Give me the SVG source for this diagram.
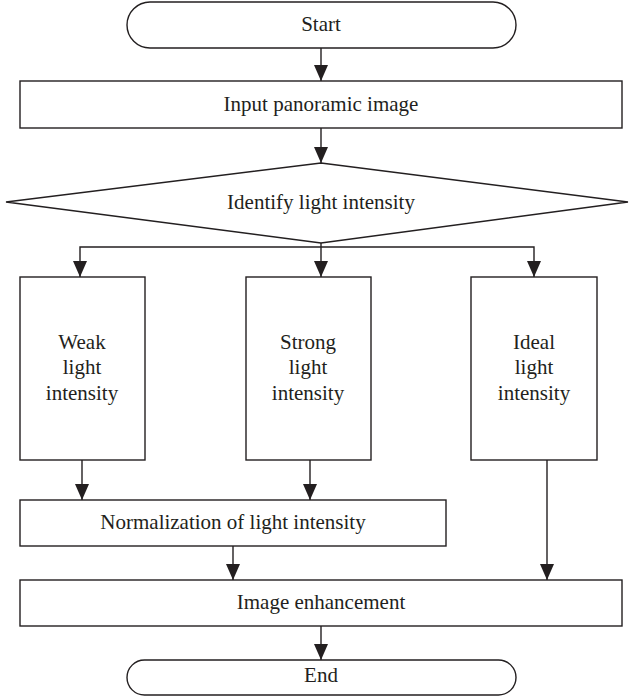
<svg xmlns="http://www.w3.org/2000/svg" width="630" height="697" viewBox="0 0 630 697">
<defs>
<style>
.s{fill:#fff;stroke:#231f20;stroke-width:1.4}
.t{font-family:"Liberation Serif","Times New Roman",serif;font-size:21px;fill:#231f20;text-anchor:middle}
.c{fill:none;stroke:#231f20;stroke-width:1.4}
</style>
<marker id="ah" viewBox="0 0 16 14" refX="16" refY="7" markerWidth="16" markerHeight="14" markerUnits="userSpaceOnUse" orient="auto">
<path d="M0,0 L16,7 L0,14 z" fill="#231f20"/>
</marker>
</defs>
<rect width="630" height="697" fill="#fff"/>
<g id="connectors">
<path class="c" d="M321,48 V81" marker-end="url(#ah)"/>
<path class="c" d="M321,128 V163" marker-end="url(#ah)"/>
<path class="c" d="M321,243 V277" marker-end="url(#ah)"/>
<path class="c" d="M321,247 H80 V277" marker-end="url(#ah)"/>
<path class="c" d="M321,247 H534 V277" marker-end="url(#ah)"/>
<path class="c" d="M82,460 V500" marker-end="url(#ah)"/>
<path class="c" d="M310,460 V500" marker-end="url(#ah)"/>
<path class="c" d="M233,546 V580" marker-end="url(#ah)"/>
<path class="c" d="M547,460 V580" marker-end="url(#ah)"/>
<path class="c" d="M321,626 V660" marker-end="url(#ah)"/>
</g>
<g id="start">
<rect class="s" x="127" y="2" width="389" height="46" rx="23"/>
<text class="t" x="321" y="31">Start</text>
</g>
<g id="input">
<rect class="s" x="20" y="81" width="602" height="47"/>
<text class="t" x="321" y="111">Input panoramic image</text>
</g>
<g id="identify">
<polygon class="s" points="321,163 628,202 321,243 6,202"/>
<text class="t" x="321" y="209">Identify light intensity</text>
</g>
<g id="weak">
<rect class="s" x="20" y="277" width="125" height="183"/>
<text class="t" x="82" y="349">Weak</text>
<text class="t" x="82" y="374">light</text>
<text class="t" x="82" y="400">intensity</text>
</g>
<g id="strong">
<rect class="s" x="246" y="277" width="125" height="183"/>
<text class="t" x="308" y="349">Strong</text>
<text class="t" x="308" y="374">light</text>
<text class="t" x="308" y="400">intensity</text>
</g>
<g id="ideal">
<rect class="s" x="471" y="277" width="126" height="183"/>
<text class="t" x="534" y="349">Ideal</text>
<text class="t" x="534" y="374">light</text>
<text class="t" x="534" y="400">intensity</text>
</g>
<g id="normalization">
<rect class="s" x="20" y="500" width="426" height="46"/>
<text class="t" x="233" y="529">Normalization of light intensity</text>
</g>
<g id="enhancement">
<rect class="s" x="20" y="580" width="602" height="46"/>
<text class="t" x="321" y="609">Image enhancement</text>
</g>
<g id="end">
<rect class="s" x="127" y="660" width="389" height="35" rx="17.5"/>
<text class="t" x="321" y="682">End</text>
</g>
</svg>
